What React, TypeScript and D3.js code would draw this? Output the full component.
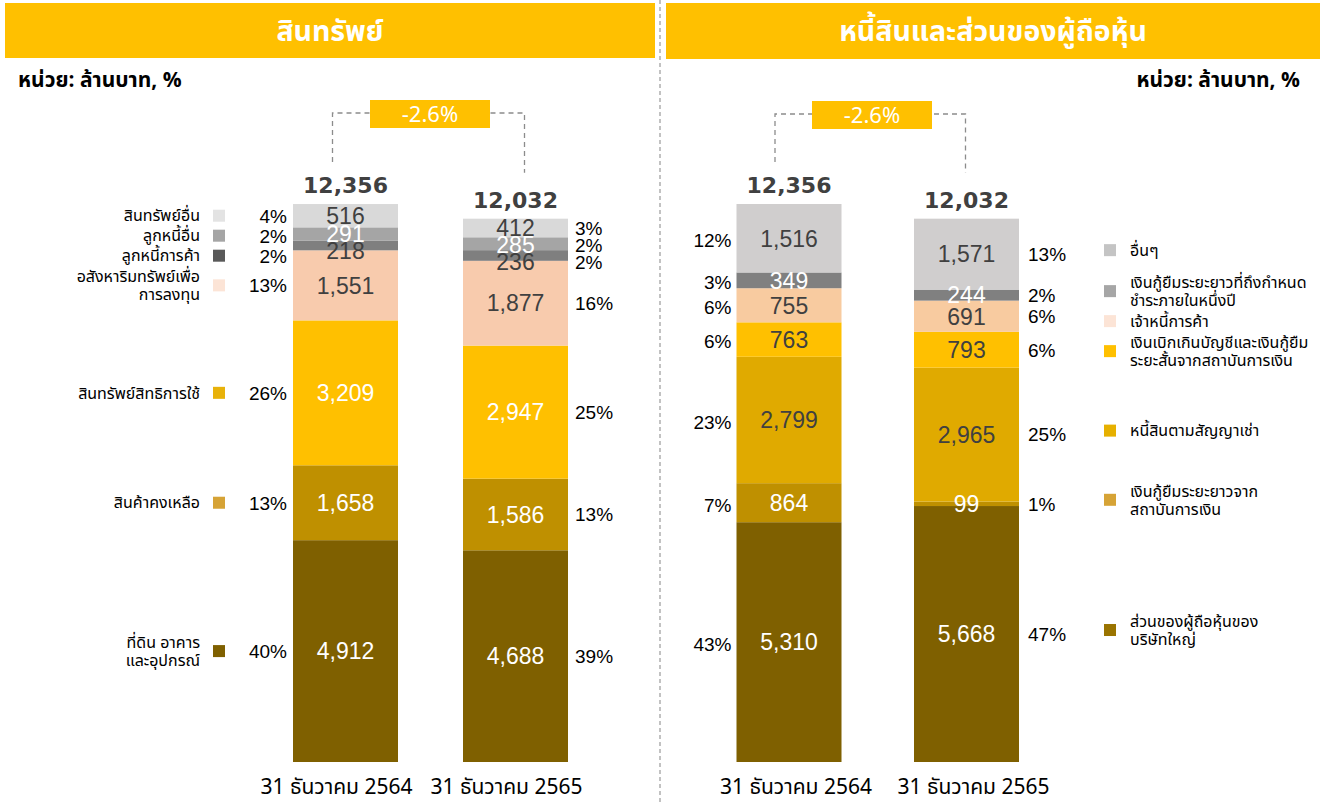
import * as d3 from 'd3'

const periods = ['31 ธันวาคม 2564', '31 ธันวาคม 2565']
const changeLabel = '-2.6%'
const unitLabel = 'หน่วย: ล้านบาท, %'

// assets, bottom to top
const assetNames = [
  'ที่ดิน อาคาร\nและอุปกรณ์',
  'สินค้าคงเหลือ',
  'สินทรัพย์สิทธิการใช้',
  'อสังหาริมทรัพย์เพื่อ\nการลงทุน',
  'ลูกหนี้การค้า',
  'ลูกหนี้อื่น',
  'สินทรัพย์อื่น',
]
const assets2564 = [4912, 1658, 3209, 1551, 218, 291, 516]
const assets2565 = [4688, 1586, 2947, 1877, 236, 285, 412]
const assetPct2564 = ['40%', '13%', '26%', '13%', '2%', '2%', '4%']
const assetPct2565 = ['39%', '13%', '25%', '16%', '2%', '2%', '3%']
const assetTotals = [12356, 12032]

// liabilities & equity, bottom to top
const liabNames = [
  'ส่วนของผู้ถือหุ้นของ\nบริษัทใหญ่',
  'เงินกู้ยืมระยะยาวจาก\nสถาบันการเงิน',
  'หนี้สินตามสัญญาเช่า',
  'เงินเบิกเกินบัญชีและเงินกู้ยืม\nระยะสั้นจากสถาบันการเงิน',
  'เจ้าหนี้การค้า',
  'เงินกู้ยืมระยะยาวที่ถึงกำหนด\nชำระภายในหนึ่งปี',
  'อื่นๆ',
]
const liab2564 = [5310, 864, 2799, 763, 755, 349, 1516]
const liab2565 = [5668, 99, 2965, 793, 691, 244, 1571]
const liabPct2564 = ['43%', '7%', '23%', '6%', '6%', '3%', '12%']
const liabPct2565 = ['47%', '1%', '25%', '6%', '6%', '2%', '13%']
const liabTotals = [12356, 12032]

const assetColors = ['#7F6000', '#BF9000', '#FFC000', '#F8CBAD', '#7F7F7F', '#A5A5A5', '#D9D9D9']
const assetLegend = ['#7F6000', '#D6A336', '#E8B20A', '#FCE4D6', '#595959', '#A5A5A5', '#E3E3E3']
const assetWhite = [true, true, true, false, false, true, false]
const liabColors = ['#7F6000', '#BF9000', '#E0AA00', '#FFC000', '#F8CBA0', '#808080', '#D0CECE']
const liabLegend = ['#9A7400', '#D6A336', '#E6B000', '#FFC000', '#FCE4D6', '#A6A6A6', '#C4C4C4']
const liabWhite = [true, true, false, false, false, true, false]

const FONT = "Tahoma, 'Noto Sans Thai', 'Leelawadee UI', 'DejaVu Sans', sans-serif"
const NUM = "'Liberation Sans', Arial, sans-serif"
const DARK = '#404040'
const fmt = d3.format(',')

const y = d3.scaleLinear().domain([0, 12356]).range([762, 204])
const barW = 105

// push labels down so they don't overlap, working top-down
const spread = (centers: number[], gap: number) => {
  const order = centers.map((c, i) => i).sort((a, b) => centers[a] - centers[b])
  const out = [...centers]
  let prev = -Infinity
  order.forEach(i => {
    out[i] = Math.max(centers[i], prev + gap)
    prev = out[i]
  })
  return out
}

const stackOf = (vals: number[]) => {
  let acc = 0
  return vals.map(v => {
    const s = { y0: acc, y1: acc + v, v }
    acc += v
    return s
  })
}

type Seg = { y0: number; y1: number; v: number }

const Bar = ({ cx, segs, colors, white }: { cx: number; segs: Seg[]; colors: string[]; white: boolean[] }) => {
  const centers = segs.map(s => (y(s.y0) + y(s.y1)) / 2)
  const ly = spread(centers, 17)
  return (
    <g>
      {segs.map((s, i) => (
        <rect key={i} x={cx - barW / 2} width={barW} y={y(s.y1)} height={y(s.y0) - y(s.y1)} fill={colors[i]} />
      ))}
      {segs.map((s, i) => (
        <text key={'t' + i} x={cx} y={ly[i]} dy="0.36em" textAnchor="middle" fontFamily={NUM} fontSize={23}
          fill={white[i] ? '#fff' : DARK}>{fmt(s.v)}</text>
      ))}
    </g>
  )
}

const Bracket = ({ x1, x2, y1, y2, top, mid }: { x1: number; x2: number; y1: number; y2: number; top: number; mid: number }) => (
  <g>
    <path d={`M${x1},${y1} V${top} H${x2} V${y2}`} fill="none" stroke="#8c8c8c" strokeWidth={1.3} strokeDasharray="5,4" />
    <rect x={mid - 60} y={top - 13} width={120} height={28} fill="#FFC000" />
    <text x={mid} y={top + 1} dy="0.36em" textAnchor="middle" fontFamily={FONT} fontSize={22} fill="#fff">{changeLabel}</text>
  </g>
)

const Totals = ({ xs, totals }: { xs: number[]; totals: number[] }) => (
  <g>
    {totals.map((t, i) => (
      <text key={i} x={xs[i]} y={y(t) - 11} textAnchor="middle" fontFamily="'DejaVu Sans', Verdana, sans-serif"
        fontWeight="bold" fontSize={22} fill={DARK}>{fmt(t)}</text>
    ))}
  </g>
)

const Periods = ({ xs, shift }: { xs: number[]; shift: number }) => (
  <g>
    {periods.map((p, i) => (
      <text key={i} x={xs[i] + shift} y={794} textAnchor="middle" fontFamily={FONT} fontSize={21} fill="#000">{p}</text>
    ))}
  </g>
)

const LegendItem = ({ x, cy, label, color, anchor, sq }: { x: number; cy: number; label: string; color: string; anchor: 'start' | 'end'; sq: number }) => {
  const lines = label.split('\n')
  const lh = 18
  const top = cy - ((lines.length - 1) * lh) / 2
  return (
    <g>
      <rect x={sq} y={cy - 6} width={12} height={12} fill={color} />
      {lines.map((l, i) => (
        <text key={i} x={x} y={top + i * lh} dy="0.36em" textAnchor={anchor} fontFamily={FONT} fontSize={16} fill="#000">{l}</text>
      ))}
    </g>
  )
}

export default function App() {
  const xa = d3.scalePoint<string>().domain(periods).range([345.5, 515.5])
  const xl = d3.scalePoint<string>().domain(periods).range([789, 966.5])
  const ax = periods.map(p => xa(p) as number)
  const lx = periods.map(p => xl(p) as number)

  const a1 = stackOf(assets2564)
  const a2 = stackOf(assets2565)
  const l1 = stackOf(liab2564)
  const l2 = stackOf(liab2565)
  const mid = (s: Seg) => (y(s.y0) + y(s.y1)) / 2

  const aLeg = spread(a1.map(mid), 20)
  const a2Pct = spread(a2.map(mid), 17)
  const l1Pct = l1.map(mid)
  const l2Pct = spread(l2.map(mid), 17)

  // right legend: stack blocks top-down without overlap
  const order = l2.map((_, i) => i).reverse()
  const lLeg: number[] = []
  let prevBottom = -Infinity
  order.forEach(i => {
    const h = liabNames[i].split('\n').length * 18
    const t = Math.max(mid(l2[i]) - h / 2 - 4, prevBottom + 3)
    lLeg[i] = t + h / 2
    prevBottom = t + h
  })

  return (
    <svg width={1325} height={802} style={{ position: 'absolute', left: 0, top: 0, background: '#fff' }}>
      {/* headers */}
      <rect x={5} y={3} width={650} height={55} fill="#FFC000" />
      <rect x={666} y={3} width={654} height={56} fill="#FFC000" />
      <text x={330} y={31} dy="0.36em" textAnchor="middle" fontFamily={FONT} fontWeight="bold" fontSize={28.5} fill="#fff">สินทรัพย์</text>
      <text x={993} y={31} dy="0.36em" textAnchor="middle" fontFamily={FONT} fontWeight="bold" fontSize={28.5} fill="#fff">หนี้สินและส่วนของผู้ถือหุ้น</text>
      <line x1={660} x2={660} y1={0} y2={802} stroke="#9a9a9a" strokeWidth={1.2} strokeDasharray="4,3" />
      <text x={18} y={79} dy="0.36em" fontFamily={FONT} fontWeight="bold" fontSize={21} fill="#000">{unitLabel}</text>
      <text x={1300} y={79} dy="0.36em" textAnchor="end" fontFamily={FONT} fontWeight="bold" fontSize={21} fill="#000">{unitLabel}</text>

      {/* assets */}
      <Bracket x1={ax[0] - 13} x2={ax[1] + 9} y1={y(assetTotals[0]) - 42} y2={y(assetTotals[1]) - 46} top={113} mid={430} />
      <Totals xs={ax} totals={assetTotals} />
      <Bar cx={ax[0]} segs={a1} colors={assetColors} white={assetWhite} />
      <Bar cx={ax[1]} segs={a2} colors={assetColors} white={assetWhite} />
      {assetNames.map((n, i) => (
        <LegendItem key={i} x={200} cy={aLeg[i]} label={n} color={assetLegend[i]} anchor="end" sq={213} />
      ))}
      {assetPct2564.map((p, i) => (
        <text key={i} x={ax[0] - barW / 2 - 6} y={aLeg[i]} dy="0.36em" textAnchor="end" fontFamily={NUM} fontSize={19} fill="#000">{p}</text>
      ))}
      {assetPct2565.map((p, i) => (
        <text key={i} x={ax[1] + barW / 2 + 7} y={a2Pct[i]} dy="0.36em" fontFamily={NUM} fontSize={19} fill="#000">{p}</text>
      ))}
      <Periods xs={ax} shift={-9} />

      {/* liabilities */}
      <Bracket x1={lx[0] - 14} x2={lx[1] - 1} y1={y(liabTotals[0]) - 42} y2={y(liabTotals[1]) - 46} top={114} mid={872} />
      <Totals xs={lx} totals={liabTotals} />
      <Bar cx={lx[0]} segs={l1} colors={liabColors} white={liabWhite} />
      <Bar cx={lx[1]} segs={l2} colors={liabColors} white={liabWhite} />
      {liabPct2564.map((p, i) => (
        <text key={i} x={lx[0] - barW / 2 - 5} y={l1Pct[i] + 2} dy="0.36em" textAnchor="end" fontFamily={NUM} fontSize={19} fill="#000">{p}</text>
      ))}
      {liabPct2565.map((p, i) => (
        <text key={i} x={lx[1] + barW / 2 + 9} y={l2Pct[i]} dy="0.36em" fontFamily={NUM} fontSize={19} fill="#000">{p}</text>
      ))}
      {liabNames.map((n, i) => (
        <LegendItem key={i} x={1130} cy={lLeg[i]} label={n} color={liabLegend[i]} anchor="start" sq={1104} />
      ))}
      <Periods xs={lx} shift={7} />
    </svg>
  )
}
